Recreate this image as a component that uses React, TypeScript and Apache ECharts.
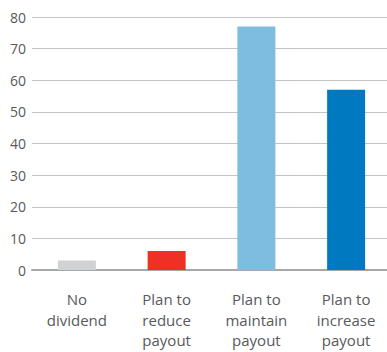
import React, { useEffect, useRef } from "react";
import * as echarts from "echarts";

const categories = ["No\ndividend", "Plan to\nreduce\npayout", "Plan to\nmaintain\npayout", "Plan to\nincrease\npayout"];
const values = [3, 6, 77, 57];
const barColors = ["#d1d2d4", "#ee3124", "#7fbde0", "#0079c1"];
const yTicks = { min: 0, max: 80, interval: 10 };

export default function App() {
  const ref = useRef<HTMLDivElement>(null);
  useEffect(() => {
    if (!ref.current) return;
    const chart = echarts.init(ref.current, null, { renderer: "svg" });
    chart.setOption({
      animation: false,
      grid: { left: 32, right: -4, top: 17, bottom: 82, outerBoundsMode: "none", containLabel: false },
      xAxis: {
        type: "category",
        data: categories,
        axisLine: { show: true, lineStyle: { color: "#a7a8aa", width: 2 } },
        axisTick: { show: false },
        axisLabel: {
          color: "#58595b",
          fontSize: 15,
          fontFamily: "Open Sans",
          lineHeight: 20.5,
          margin: 19,
          interval: 0,
        },
      },
      yAxis: {
        type: "value",
        min: yTicks.min,
        max: yTicks.max,
        interval: yTicks.interval,
        axisLine: { show: false },
        axisTick: { show: false },
        splitLine: { lineStyle: { color: "#c4c4c6", width: 1 } },
        axisLabel: {
          color: "#58595b",
          fontSize: 14,
          fontFamily: "Open Sans",
          margin: 6,
        },
      },
      series: [
        {
          type: "bar",
          barWidth: 38,
          data: values.map((v, i) => ({ value: v, itemStyle: { color: barColors[i] } })),
        },
      ],
    });
    return () => chart.dispose();
  }, []);
  return (
    <div
      ref={ref}
      style={{ position: "fixed", left: 0, top: 0, width: 387, height: 352, background: "#fff" }}
    />
  );
}
